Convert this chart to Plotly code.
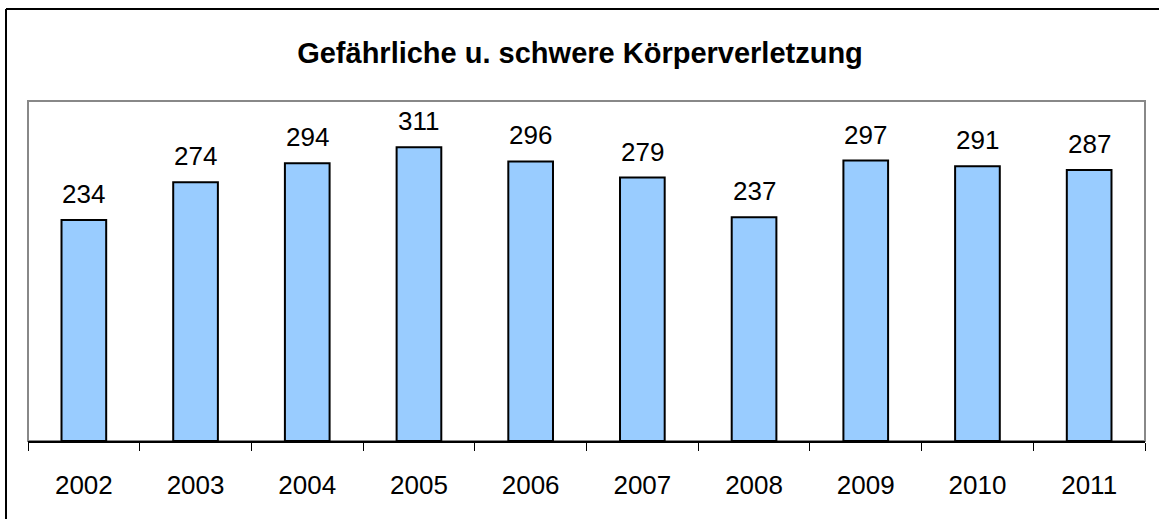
import plotly.graph_objects as go

years = ["2002", "2003", "2004", "2005", "2006", "2007", "2008", "2009", "2010", "2011"]
values = [234, 274, 294, 311, 296, 279, 237, 297, 291, 287]
title_text = "Gefährliche u. schwere Körperverletzung"

W, H = 1160, 520
ML, MR, MT, MB = 28, 15, 101, 79
pw = W - ML - MR
ph = H - MT - MB
FONT = "Liberation Sans, Arial, sans-serif"

fig = go.Figure()
fig.add_trace(go.Bar(
    x=years, y=values, width=0.4,
    marker=dict(color="#99CCFF", line=dict(color="#000000", width=2)),
    hoverinfo="x+y",
))

for i, v in enumerate(values):
    fig.add_annotation(x=i, y=v, text=str(v), showarrow=False,
                       yanchor="bottom", yshift=9,
                       font=dict(family=FONT, size=26, color="#000000"))

# plot area grey border
fig.add_shape(type="rect", xref="paper", yref="paper", x0=0, x1=1, y0=0, y1=1,
              line=dict(color="#888888", width=2), layer="below")
# outer chart border (top and left visible; right/bottom lie outside the picture)
ox = (6 - ML) / pw
oy = (H - MB - 9) / ph
fig.add_shape(type="line", xref="paper", yref="paper", x0=ox, x1=(W - 1 - ML) / pw, y0=oy, y1=oy,
              line=dict(color="#000000", width=2))
fig.add_shape(type="line", xref="paper", yref="paper", x0=ox, x1=ox, y0=oy, y1=(1 - MB) / ph,
              line=dict(color="#000000", width=2))

fig.update_layout(
    width=W, height=H, autosize=False,
    margin=dict(l=ML, r=MR, t=MT, b=MB, autoexpand=False),
    paper_bgcolor="#FFFFFF", plot_bgcolor="#FFFFFF",
    showlegend=False,
    title=dict(text="<b>" + title_text + "</b>", x=0.5, xanchor="center",
               y=1 - 53 / H, yanchor="middle", yref="container",
               font=dict(family=FONT, size=29, color="#000000")),
    bargap=0.6,
)
fig.update_xaxes(type="category", range=[-0.5, len(years) - 0.5], showline=True,
                 linecolor="#000000", linewidth=1.5,
                 ticks="outside", tickson="boundaries", ticklen=8, tickcolor="#000000", tickwidth=1,
                 showgrid=False, ticklabelstandoff=20, tickangle=0,
                 tickfont=dict(family=FONT, size=26, color="#000000"))
fig.update_yaxes(range=[0, 360], showticklabels=False, showgrid=False, zeroline=False,
                 showline=False, ticks="")

fig.write_html("out.html", config={"displayModeBar": False},
               post_script=("document.body.style.margin='0';"
                            "document.body.style.overflow='hidden';"
                            "document.documentElement.style.overflow='hidden';"))
